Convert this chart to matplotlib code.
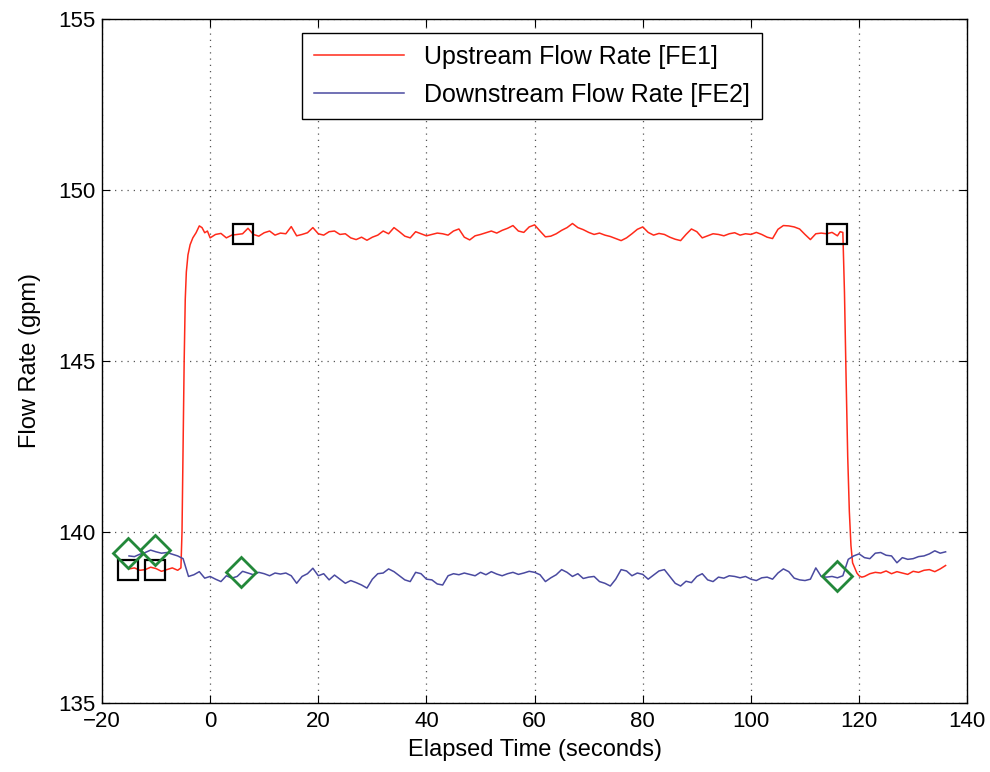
import numpy as np
import matplotlib
matplotlib.use('Agg')
import matplotlib.pyplot as plt

plt.rcParams['font.family'] = ['Liberation Sans', 'DejaVu Sans']

# upstream flow (FE1), gpm
up_pre_t = [-15, -14, -13, -12, -11, -10, -9, -8, -7, -6]
up_pre_v = [138.92, 138.95, 138.88, 138.9, 138.97, 138.93, 138.85, 138.9, 138.95, 138.88]
up_rise_t = [-5.4, -5.2, -5.0, -4.8, -4.6, -4.4, -4.1, -3.7, -3.2, -2.6, -2.0, -1.5, -1.0, -0.5]
up_rise_v = [138.95, 140.0, 142.5, 145.0, 146.8, 147.6, 148.1, 148.4, 148.6, 148.75,
             148.95, 148.9, 148.75, 148.8]
up_plat_v = [148.6, 148.7, 148.73, 148.6, 148.68, 148.7, 148.72, 148.88, 148.7, 148.65,
             148.75, 148.8, 148.68, 148.74, 148.72, 148.93, 148.66, 148.7, 148.75, 148.9,
             148.72, 148.68, 148.78, 148.8, 148.7, 148.72, 148.6, 148.55, 148.62, 148.53,
             148.62, 148.68, 148.8, 148.72, 148.9, 148.78, 148.65, 148.6, 148.78, 148.72,
             148.66, 148.7, 148.74, 148.72, 148.68, 148.8, 148.86, 148.62, 148.54, 148.66,
             148.7, 148.75, 148.8, 148.74, 148.82, 148.88, 148.96, 148.8, 148.76, 148.92,
             148.98, 148.8, 148.63, 148.65, 148.72, 148.82, 148.9, 149.02, 148.9, 148.84,
             148.76, 148.7, 148.74, 148.68, 148.64, 148.58, 148.52, 148.6, 148.72, 148.85,
             148.92, 148.76, 148.68, 148.73, 148.7, 148.62, 148.56, 148.52, 148.7, 148.86,
             148.78, 148.6, 148.66, 148.72, 148.7, 148.66, 148.72, 148.75, 148.68, 148.72,
             148.7, 148.76, 148.7, 148.62, 148.58, 148.85, 148.96, 148.95, 148.92, 148.86,
             148.7, 148.55, 148.72, 148.74, 148.72, 148.76, 148.66]
up_drop_t = [116.5, 117.0, 117.3, 117.6, 117.9, 118.2, 118.5, 118.8, 119.2, 119.6, 120.0, 120.5]
up_drop_v = [148.78, 148.76, 147.0, 144.5, 142.2, 140.6, 139.6, 139.1, 138.95, 138.8, 138.72, 138.68]
up_post_t = [121, 122, 123, 124, 125, 126, 127, 128, 129, 130, 131, 132, 133, 134, 135, 136]
up_post_v = [138.7, 138.78, 138.82, 138.8, 138.86, 138.78, 138.84, 138.8, 138.76, 138.85,
             138.82, 138.88, 138.9, 138.84, 138.92, 139.02]

# downstream flow (FE2), gpm, one value per second from -15 s
dn_v = [139.3, 139.28, 139.35, 139.4, 139.47, 139.42, 139.38, 139.4, 139.35, 139.3,
        139.22, 138.7, 138.75, 138.84, 138.65, 138.7, 138.62, 138.55, 138.72, 138.65,
        138.7, 138.85, 138.8, 138.75, 138.82, 138.78, 138.72, 138.8, 138.77, 138.8,
        138.72, 138.5, 138.7, 138.78, 138.94, 138.72, 138.78, 138.6, 138.74, 138.62,
        138.5, 138.58, 138.52, 138.45, 138.36, 138.62, 138.78, 138.8, 138.92, 138.84,
        138.72, 138.6, 138.55, 138.82, 138.78, 138.62, 138.6, 138.48, 138.45, 138.72,
        138.78, 138.75, 138.8, 138.76, 138.72, 138.82, 138.75, 138.84, 138.77, 138.72,
        138.78, 138.82, 138.76, 138.8, 138.85, 138.82, 138.75, 138.55, 138.66, 138.75,
        138.9, 138.82, 138.7, 138.78, 138.64, 138.68, 138.7, 138.55, 138.5, 138.42,
        138.62, 138.9, 138.86, 138.72, 138.8, 138.76, 138.62, 138.74, 138.86, 138.9,
        138.7, 138.5, 138.42, 138.56, 138.52, 138.7, 138.78, 138.6, 138.55, 138.68,
        138.65, 138.72, 138.7, 138.66, 138.7, 138.62, 138.58, 138.66, 138.68, 138.62,
        138.8, 138.92, 138.84, 138.65, 138.6, 138.58, 138.62, 138.95, 138.7, 138.68,
        138.7, 138.66, 138.72, 139.2, 139.3, 139.36, 139.25, 139.22, 139.38, 139.4,
        139.32, 139.3, 139.1, 139.25, 139.2, 139.22, 139.28, 139.3, 139.36, 139.45,
        139.38, 139.42]

# marked samples
sq_t = [-15.2, -10.2, 6.1, 116.0]
sq_v = [138.9, 138.9, 148.7, 148.72]
dia_t = [-15.1, -10.2, 5.8, 116.0]
dia_v = [139.38, 139.47, 138.84, 138.71]

up_t = up_pre_t + up_rise_t + list(range(0, len(up_plat_v))) + up_drop_t + up_post_t
up_v = up_pre_v + up_rise_v + up_plat_v + up_drop_v + up_post_v
dn_t = np.arange(-15, -15 + len(dn_v))

fig = plt.figure(figsize=(9.9, 7.72), dpi=100)
ax = fig.add_axes([0.103, 0.0894, 0.874, 0.886])

ax.plot(up_t, up_v, color='#ff2a1a', lw=1.1, label='Upstream Flow Rate [FE1]')
ax.plot(dn_t, dn_v, color='#4a4aa0', lw=1.1, label='Downstream Flow Rate [FE2]')
ax.plot(sq_t, sq_v, ls='none', marker='s', ms=15, mfc='none', mec='black', mew=1.6)
ax.plot(dia_t, dia_v, ls='none', marker='D', ms=15, mfc='none', mec='#23883a', mew=2)

ax.set_xlim(-20, 140)
ax.set_ylim(135, 155)
ax.set_xticks(np.arange(-20, 141, 20))
ax.set_yticks(np.arange(135, 156, 5))
ax.set_xticklabels(['\u221220', '0', '20', '40', '60', '80', '100', '120', '140'])
ax.tick_params(direction='in', top=True, right=True, labelsize=16, length=6)
ax.tick_params(axis='x', pad=6)
ax.tick_params(axis='y', pad=5)
ax.grid(True, ls=(0, (1, 4)), color='#555555', lw=0.9)
for s in ax.spines.values():
    s.set_linewidth(1.0)

ax.set_xlabel('Elapsed Time (seconds)', fontsize=17, labelpad=5)
ax.set_ylabel('Flow Rate (gpm)', fontsize=17, labelpad=12)

leg = ax.legend(loc='upper center', bbox_to_anchor=(0.497, 0.98), fontsize=18,
                fancybox=False, edgecolor='black', framealpha=1,
                handlelength=3.6, handletextpad=0.8, borderpad=0.5, labelspacing=0.55,
                borderaxespad=0)
leg.get_frame().set_linewidth(1.0)

fig.savefig('out.png', dpi=100)
